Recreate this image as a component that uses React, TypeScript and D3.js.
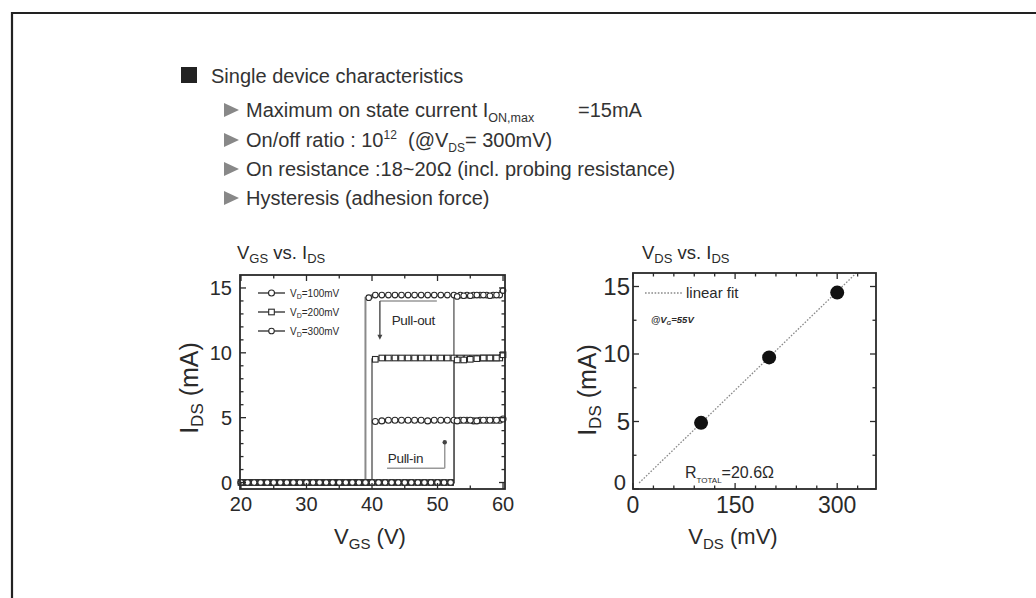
import React from 'react';
import * as d3 from 'd3';

const FONT = '"Liberation Sans", Arial, Helvetica, sans-serif';
const INK = '#2a2a2a';

// ---------- Left chart data (VGS sweep, IDS in mA) ----------
const VGS_FWD = [20, 21, 22, 23, 24, 25, 26, 27, 28, 29, 30, 31, 32, 33, 34, 35, 36, 37, 38, 39, 40, 41, 42, 43, 44, 45, 46, 47, 48, 49, 50, 51, 52, 53, 54, 55, 56, 57, 58, 59, 60];
const VGS_REV = [59.5, 58.5, 57.5, 56.5, 55.5, 54.5, 53.5, 52.5, 51.5, 50.5, 49.5, 48.5, 47.5, 46.5, 45.5, 44.5, 43.5, 42.5, 41.5, 40.5, 39.5, 38.5, 37.5, 36.5, 35.5, 34.5, 33.5, 32.5, 31.5, 30.5, 29.5, 28.5, 27.5, 26.5, 25.5, 24.5, 23.5, 22.5, 21.5, 20.5];

const I_FWD_100 = [
  0, 0, 0, 0, 0, 0, 0, 0, 0, 0, 0,
  0, 0, 0, 0, 0, 0, 0, 0, 0, 0, 0,
  0, 0, 0, 0, 0, 0, 0, 0, 0, 0, 0,
  4.75, 4.8, 4.8, 4.75, 4.8, 4.8, 4.8, 4.9];
const I_FWD_200 = [
  0, 0, 0, 0, 0, 0, 0, 0, 0, 0, 0,
  0, 0, 0, 0, 0, 0, 0, 0, 0, 0, 0,
  0, 0, 0, 0, 0, 0, 0, 0, 0, 0, 0,
  9.45, 9.45, 9.5, 9.55, 9.6, 9.6, 9.6, 9.85];
const I_FWD_300 = [
  0, 0, 0, 0, 0, 0, 0, 0, 0, 0, 0,
  0, 0, 0, 0, 0, 0, 0, 0, 0, 0, 0,
  0, 0, 0, 0, 0, 0, 0, 0, 0, 0, 0,
  14.35, 14.4, 14.4, 14.45, 14.45, 14.4, 14.45, 14.8];

const I_REV_100 = [
  4.8, 4.8, 4.8, 4.8, 4.75, 4.8, 4.8, 4.8, 4.8, 4.8,
  4.8, 4.75, 4.8, 4.8, 4.8, 4.8, 4.8, 4.8, 4.75, 4.7,
  0, 0, 0, 0, 0, 0, 0, 0, 0, 0,
  0, 0, 0, 0, 0, 0, 0, 0, 0, 0];
const I_REV_200 = [
  9.6, 9.6, 9.6, 9.6, 9.6, 9.6, 9.6, 9.6, 9.6, 9.6,
  9.6, 9.6, 9.6, 9.6, 9.6, 9.6, 9.6, 9.6, 9.6, 9.5,
  0, 0, 0, 0, 0, 0, 0, 0, 0, 0,
  0, 0, 0, 0, 0, 0, 0, 0, 0, 0];
const I_REV_300 = [
  14.45, 14.45, 14.45, 14.45, 14.45, 14.45, 14.45, 14.45, 14.45, 14.45,
  14.45, 14.45, 14.45, 14.45, 14.45, 14.45, 14.45, 14.45, 14.45, 14.45,
  14.25, 0, 0, 0, 0, 0, 0, 0, 0, 0,
  0, 0, 0, 0, 0, 0, 0, 0, 0, 0];

const SERIES_VD = ['100', '200', '300'];
const SERIES_SYMBOL = ['circle', 'square', 'dot'];
const SERIES_FWD = [I_FWD_100, I_FWD_200, I_FWD_300];
const SERIES_REV = [I_REV_100, I_REV_200, I_REV_300];

const LEFT_X_TICKS = [20, 30, 40, 50, 60];
const LEFT_Y_TICKS = [0, 5, 10, 15];

// annotations (data units)
const PULL_OUT_LINE_V = [41.2, 49.9];
const PULL_OUT_I = [14.0, 11.0];
const PULL_IN_LINE_V = [42.3, 51.1];
const PULL_IN_I = [1.1, 3.1];

// ---------- Right chart data ----------
const VDS_MV = [100, 200, 300];
const IDS_MA = [4.9, 9.75, 14.55];
const FIT_V = [9, 328];
const FIT_I = [0.45, 16];
const RIGHT_X_TICKS = [0, 150, 300];
const RIGHT_Y_TICKS = [0, 5, 10, 15];

const xL = d3.scaleLinear().domain([19.85, 60.3]).range([240, 505]);
const yL = d3.scaleLinear().domain([-0.5, 16]).range([489, 275]);
const xR = d3.scaleLinear().domain([0, 357]).range([633, 876]);
const yR = d3.scaleLinear().domain([0, 16]).range([489, 273]);

function Marker({ kind, x, y, big }: { kind: string; x: number; y: number; big?: boolean }) {
  const s = big ? 1.15 : 1;
  if (kind === 'square') {
    return <rect x={x - 2.8 * s} y={y - 2.8 * s} width={5.6 * s} height={5.6 * s} fill="#fff" stroke={INK} strokeWidth={1.1} />;
  }
  if (kind === 'dot') {
    return <circle cx={x} cy={y} r={2.8 * s} fill="#fff" stroke={INK} strokeWidth={1.1} />;
  }
  return <circle cx={x} cy={y} r={3 * s} fill="#fff" stroke={INK} strokeWidth={1.1} />;
}

function Frame({ x, y }: { x: any; y: any }) {
  const [x0, x1] = x.range();
  const [y0, y1] = y.range();
  return <rect x={x0} y={y1} width={x1 - x0} height={y0 - y1} fill="none" stroke={INK} strokeWidth={1.8} />;
}

function Ticks({ x, y, xMajor, xMinor, yMajor, yMinor }: any) {
  const [x0, x1] = x.range();
  const [y0, y1] = y.range();
  const els: any[] = [];
  xMajor.forEach((v: number, i: number) => {
    const px = x(v);
    els.push(<line key={'xb' + i} x1={px} x2={px} y1={y0} y2={y0 - 6} />);
    els.push(<line key={'xt' + i} x1={px} x2={px} y1={y1} y2={y1 + 6} />);
  });
  xMinor.forEach((v: number, i: number) => {
    const px = x(v);
    els.push(<line key={'xbm' + i} x1={px} x2={px} y1={y0} y2={y0 - 3.5} />);
    els.push(<line key={'xtm' + i} x1={px} x2={px} y1={y1} y2={y1 + 3.5} />);
  });
  yMajor.forEach((v: number, i: number) => {
    const py = y(v);
    els.push(<line key={'yl' + i} x1={x0} x2={x0 + 6} y1={py} y2={py} />);
    els.push(<line key={'yr' + i} x1={x1} x2={x1 - 6} y1={py} y2={py} />);
  });
  yMinor.forEach((v: number, i: number) => {
    const py = y(v);
    els.push(<line key={'ylm' + i} x1={x0} x2={x0 + 3.5} y1={py} y2={py} />);
    els.push(<line key={'yrm' + i} x1={x1} x2={x1 - 3.5} y1={py} y2={py} />);
  });
  return <g stroke={INK} strokeWidth={1.3}>{els}</g>;
}

export default function App() {
  const lineStep = d3.line<[number, number]>().x(d => xL(d[0])).y(d => yL(d[1])).curve(d3.curveStep);

  const leftXMinor = [25, 35, 45, 55];
  const leftYMinor = [1, 2, 3, 4, 6, 7, 8, 9, 11, 12, 13, 14];
  const rightXMinor = [30, 60, 90, 120, 180, 210, 240, 270, 330];
  const rightYMinor = [2.5, 7.5, 12.5];

  const bullets = [117, 147, 176, 205];
  const HF = 20;

  return (
    <svg width={1036} height={598} style={{ position: 'absolute', left: 0, top: 0, background: '#fff' }} fontFamily={FONT}>
      {/* outer frame */}
      <path d="M12,598 L12,13 L1036,13" fill="none" stroke="#222" strokeWidth={2.2} />

      {/* header text */}
      <rect x={181} y={67} width={16} height={16} fill="#222" />
      <text x={211} y={83} fontSize={HF} fill="#333">Single device characteristics</text>
      {bullets.map((b, i) => (
        <polygon key={i} points={`${224},${b - 14} ${239},${b - 7} ${224},${b}`} fill="#888" />
      ))}
      <text x={246} y={bullets[0]} fontSize={HF} fill="#333">
        Maximum on state current I
        <tspan fontSize={12.5} dy={5}>ON,max</tspan>
        <tspan x={578} dy={-5}>=15mA</tspan>
      </text>
      <text x={246} y={bullets[1]} fontSize={HF} fill="#333">
        On/off ratio : 10
        <tspan fontSize={12} dy={-8}>12</tspan>
        <tspan dy={8}>{'\u00a0\u00a0(@V'}</tspan>
        <tspan fontSize={12} dy={5}>DS</tspan>
        <tspan dy={-5}>= 300mV)</tspan>
      </text>
      <text x={246} y={bullets[2]} fontSize={HF} fill="#333">On resistance :18~20Ω (incl. probing resistance)</text>
      <text x={246} y={bullets[3]} fontSize={HF} fill="#333">Hysteresis (adhesion force)</text>

      {/* ---------------- Left chart ---------------- */}
      <text x={237} y={259} fontSize={18.5} fill={INK}>
        V<tspan fontSize={13} dy={4}>GS</tspan>
        <tspan dy={-4}> vs. I</tspan>
        <tspan fontSize={13} dy={4}>DS</tspan>
      </text>

      {/* data lines */}
      {SERIES_REV.map((s, k) => (
        <path key={'rev' + k} d={lineStep(VGS_REV.map((v, i) => [v, s[i]] as [number, number])) || ''}
          fill="none" stroke="#8a8a8a" strokeWidth={2} />
      ))}
      {SERIES_FWD.map((s, k) => (
        <path key={'fwd' + k} d={lineStep(VGS_FWD.map((v, i) => [v, s[i]] as [number, number])) || ''}
          fill="none" stroke={k === 2 ? '#777' : '#1a1a1a'} strokeWidth={1.6} />
      ))}
      {SERIES_REV.map((s, k) => (
        <g key={'rm' + k}>
          {VGS_REV.map((v, i) => <Marker key={i} kind={SERIES_SYMBOL[k]} x={xL(v)} y={yL(s[i])} />)}
        </g>
      ))}
      {SERIES_FWD.map((s, k) => (
        <g key={'fm' + k}>
          {VGS_FWD.map((v, i) => <Marker key={i} kind={SERIES_SYMBOL[k]} x={xL(v)} y={yL(s[i])} />)}
        </g>
      ))}

      {/* annotations */}
      <g stroke="#999" strokeWidth={1.5} fill="none">
        <line x1={xL(PULL_OUT_LINE_V[0])} x2={xL(PULL_OUT_LINE_V[1])} y1={yL(PULL_OUT_I[0])} y2={yL(PULL_OUT_I[0])} />
        <line x1={xL(PULL_OUT_LINE_V[0])} x2={xL(PULL_OUT_LINE_V[0])} y1={yL(PULL_OUT_I[0])} y2={yL(PULL_OUT_I[1]) - 4} stroke="#555" />
        <line x1={xL(PULL_IN_LINE_V[0])} x2={xL(PULL_IN_LINE_V[1])} y1={yL(PULL_IN_I[0])} y2={yL(PULL_IN_I[0])} />
        <line x1={xL(PULL_IN_LINE_V[1])} x2={xL(PULL_IN_LINE_V[1])} y1={yL(PULL_IN_I[0])} y2={yL(PULL_IN_I[1])} />
      </g>
      <polygon points={`${xL(PULL_OUT_LINE_V[0]) - 2.5},${yL(PULL_OUT_I[1]) - 5} ${xL(PULL_OUT_LINE_V[0]) + 2.5},${yL(PULL_OUT_I[1]) - 5} ${xL(PULL_OUT_LINE_V[0])},${yL(PULL_OUT_I[1])}`} fill="#444" />
      <circle cx={xL(PULL_IN_LINE_V[1])} cy={yL(PULL_IN_I[1])} r={2.2} fill="#444" />
      <text x={xL(43)} y={yL(12.5) + 5} fontSize={13.5} fill={INK} letterSpacing={-0.3}>Pull-out</text>
      <text x={xL(42.4)} y={yL(1.9) + 5} fontSize={13.5} fill={INK} letterSpacing={-0.3}>Pull-in</text>

      {/* legend */}
      {SERIES_VD.map((vd, k) => {
        const ly = 293 + k * 19;
        return (
          <g key={'leg' + k}>
            <line x1={258} x2={285} y1={ly} y2={ly} stroke={INK} strokeWidth={1.3} />
            <Marker kind={SERIES_SYMBOL[k]} x={271.5} y={ly} />
            <text x={290} y={ly + 3.5} fontSize={10} fill={INK}>
              V<tspan fontSize={7} dy={2.5}>D</tspan>
              <tspan dy={-2.5}>={vd}mV</tspan>
            </text>
          </g>
        );
      })}

      <Frame x={xL} y={yL} />
      <Ticks x={xL} y={yL} xMajor={LEFT_X_TICKS} xMinor={leftXMinor} yMajor={LEFT_Y_TICKS} yMinor={leftYMinor} />
      {LEFT_X_TICKS.map(t => (
        <text key={'lx' + t} x={xL(t)} y={511} fontSize={20} textAnchor="middle" fill={INK}>{t}</text>
      ))}
      {LEFT_Y_TICKS.map(t => (
        <text key={'ly' + t} x={232} y={yL(t) + 7} fontSize={20} textAnchor="end" fill={INK}>{t}</text>
      ))}
      <text transform={`translate(198,${388}) rotate(-90)`} fontSize={25} textAnchor="middle" fill={INK}>
        I<tspan fontSize={17} dy={5}>DS</tspan>
        <tspan dy={-5}> (mA)</tspan>
      </text>
      <text x={370} y={544} fontSize={22} textAnchor="middle" fill={INK}>
        V<tspan fontSize={15} dy={5}>GS</tspan>
        <tspan dy={-5}> (V)</tspan>
      </text>

      {/* ---------------- Right chart ---------------- */}
      <text x={642} y={259} fontSize={18.5} fill={INK}>
        V<tspan fontSize={13} dy={4}>DS</tspan>
        <tspan dy={-4}> vs. I</tspan>
        <tspan fontSize={13} dy={4}>DS</tspan>
      </text>
      <line x1={xR(FIT_V[0])} y1={yR(FIT_I[0])} x2={xR(FIT_V[1])} y2={yR(FIT_I[1])}
        stroke="#8a8a8a" strokeWidth={1.3} strokeDasharray="1.6 1.6" />
      {VDS_MV.map((v, i) => (
        <circle key={'p' + i} cx={xR(v)} cy={yR(IDS_MA[i])} r={7} fill="#111" />
      ))}
      <line x1={645} x2={683} y1={293} y2={293} stroke="#8a8a8a" strokeWidth={1.3} strokeDasharray="1.6 1.6" />
      <text x={686} y={298} fontSize={15} fill={INK}>linear fit</text>
      <text x={651} y={323} fontSize={9.5} fontStyle="italic" fontWeight="bold" fill={INK}>
        @V<tspan fontSize={6} dy={2}>G</tspan>
        <tspan dy={-2}>=55V</tspan>
      </text>
      <text x={685} y={478} fontSize={16} fill={INK}>
        R<tspan fontSize={8} dy={5}>TOTAL</tspan>
        <tspan dy={-5}>=20.6Ω</tspan>
      </text>

      <Frame x={xR} y={yR} />
      <Ticks x={xR} y={yR} xMajor={RIGHT_X_TICKS} xMinor={rightXMinor} yMajor={RIGHT_Y_TICKS} yMinor={rightYMinor} />
      {RIGHT_X_TICKS.map(t => (
        <text key={'rx' + t} x={xR(t)} y={513} fontSize={23} textAnchor="middle" fill={INK}>{t}</text>
      ))}
      {RIGHT_Y_TICKS.map(t => (
        <text key={'ry' + t} x={t === 0 ? 626 : 630} y={t === 0 ? 490 : yR(t) + 8} fontSize={t === 0 ? 22 : 24} textAnchor="end" fill={INK}>{t}</text>
      ))}
      <text transform={`translate(596,${390}) rotate(-90)`} fontSize={25} textAnchor="middle" fill={INK}>
        I<tspan fontSize={17} dy={5}>DS</tspan>
        <tspan dy={-5}> (mA)</tspan>
      </text>
      <text x={733} y={544} fontSize={22} textAnchor="middle" fill={INK}>
        V<tspan fontSize={15} dy={5}>DS</tspan>
        <tspan dy={-5}> (mV)</tspan>
      </text>
    </svg>
  );
}
